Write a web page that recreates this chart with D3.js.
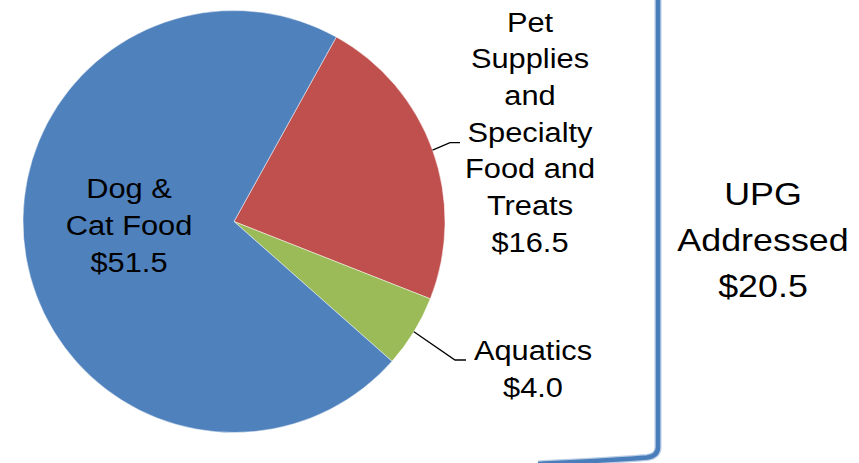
<!DOCTYPE html>
<html>
<head>
<meta charset="utf-8">
<script src="https://cdn.jsdelivr.net/npm/d3@7"></script>
<style>
  html, body { margin: 0; padding: 0; background: #fff; }
  svg { display: block; }
  text { font-family: "Liberation Sans", Arial, sans-serif; fill: #000; }
</style>
</head>
<body>
<svg id="chart"></svg>
<script>
// pie data, clockwise from the red slice
const categories = ["Pet Supplies and Specialty Food and Treats", "Aquatics", "Dog & Cat Food"];
const values = [16.5, 4.0, 51.5];
const labelLines = [
  ["Pet", "Supplies", "and", "Specialty", "Food and", "Treats"],
  ["Aquatics"],
  ["Dog &", "Cat Food"]
];
const upgLines = ["UPG", "Addressed"];
const upgCategories = ["Pet Supplies and Specialty Food and Treats", "Aquatics"];

const colors = ["#C0504D", "#9BBB59", "#4F81BD"];

const width = 859, height = 463;
const cx = 234, cy = 221.5, radius = 211;
const startDeg = 29;

// label anchor (centre x, first baseline y) and optional leader elbow
const labelLayout = [
  { x: 530, y: 31.7, lh: 36.7, elbow: [450, 142.7], end: [460, 142.7] },
  { x: 533, y: 360, lh: 36.7, elbow: [455, 360], end: [466, 360] },
  { x: 129, y: 198, lh: 36.8 }
];

const fmt = d => "$" + d3.format(".1f")(d);

const svg = d3.select("#chart")
  .attr("width", width)
  .attr("height", height);

const pie = d3.pie()
  .sort(null)
  .startAngle(startDeg * Math.PI / 180)
  .endAngle(startDeg * Math.PI / 180 + 2 * Math.PI);

const arc = d3.arc().innerRadius(0).outerRadius(radius);

const arcs = pie(values);

const g = svg.append("g")
  .attr("transform", "translate(" + cx + "," + cy + ")");

g.selectAll("path")
  .data(arcs)
  .enter()
  .append("path")
  .attr("d", arc)
  .attr("fill", (d, i) => colors[i])
  .attr("stroke", "#fff")
  .attr("stroke-opacity", 0.6)
  .attr("stroke-width", 0.8);

// leader lines from the slice edge to the label
arcs.forEach((d, i) => {
  const L = labelLayout[i];
  if (!L.elbow) return;
  const mid = (d.startAngle + d.endAngle) / 2;
  const sx = cx + radius * Math.sin(mid);
  const sy = cy - radius * Math.cos(mid);
  svg.append("path")
    .attr("d", d3.line()([[sx, sy], L.elbow, L.end]))
    .attr("fill", "none")
    .attr("stroke", "#000")
    .attr("stroke-width", 1.3);
});

// slice labels
arcs.forEach((d, i) => {
  const L = labelLayout[i];
  const lines = labelLines[i].concat([fmt(values[i])]);
  const t = svg.append("text")
    .attr("transform", "translate(" + L.x + "," + L.y + ") scale(1.1,1)")
    .attr("text-anchor", "middle")
    .style("font-size", "28px");
  lines.forEach((s, j) => {
    t.append("tspan")
      .attr("x", 0)
      .attr("y", j * L.lh)
      .text(s);
  });
});

// bracket
const bracket = "M658,-5 L658,447 Q658,456 647,457.5 C615,460 575,462 538,464";
svg.append("path")
  .attr("d", bracket)
  .attr("fill", "none")
  .attr("stroke", "#B9CDE5")
  .attr("stroke-width", 7);
svg.append("path")
  .attr("d", bracket)
  .attr("fill", "none")
  .attr("stroke", "#4A7EBB")
  .attr("stroke-width", 4.5);

// UPG addressed total
const upgTotal = d3.sum(categories, (c, i) => upgCategories.includes(c) ? values[i] : 0);
const ut = svg.append("text")
  .attr("transform", "translate(763,205) scale(1.12,1)")
  .attr("text-anchor", "middle")
  .style("font-size", "32px");
upgLines.concat([fmt(upgTotal)]).forEach((s, j) => {
  ut.append("tspan")
    .attr("x", 0)
    .attr("y", j * 46)
    .text(s);
});
</script>
</body>
</html>
